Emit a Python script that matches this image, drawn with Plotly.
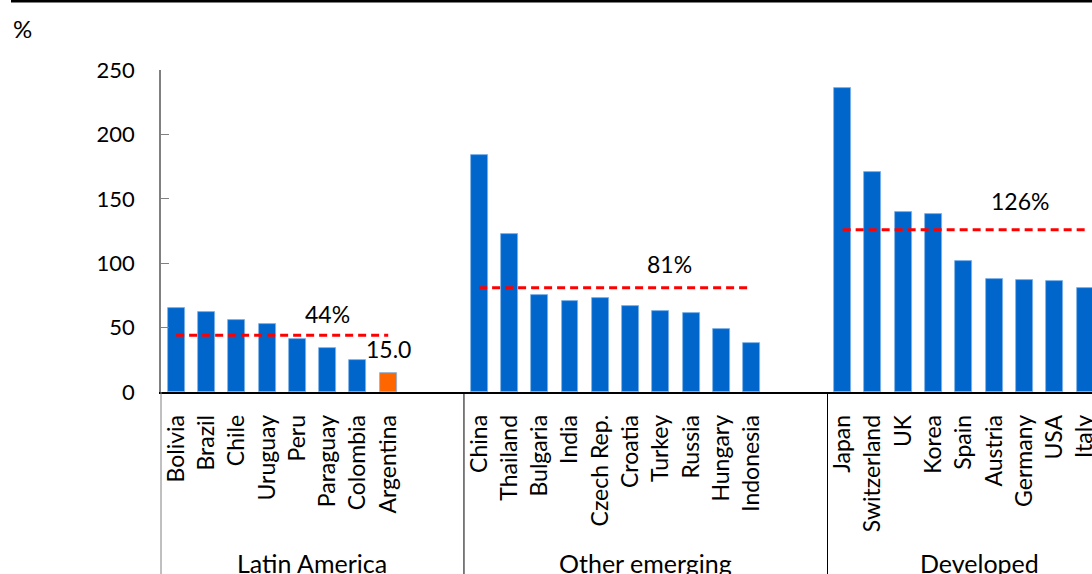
import plotly.graph_objects as go

# ---- data ----
latam = ["Bolivia", "Brazil", "Chile", "Uruguay", "Peru", "Paraguay", "Colombia", "Argentina"]
latam_vals = [65, 62, 56, 53, 41, 34, 25, 15.0]
other = ["China", "Thailand", "Bulgaria", "India", "Czech Rep.", "Croatia", "Turkey", "Russia", "Hungary", "Indonesia"]
other_vals = [184, 123, 75, 71, 73, 67, 63, 61, 49, 38]
devd = ["Japan", "Switzerland", "UK", "Korea", "Spain", "Austria", "Germany", "USA", "Italy"]
devd_vals = [236, 171, 140, 138, 102, 88, 87, 86, 81]
group_names = ["Latin America", "Other emerging", "Developed"]
group_avgs = [44, 81, 126]
avg_labels = ["44%", "81%", "126%"]
highlight = "Argentina"
highlight_label = "15.0"
y_ticks = [0, 50, 100, 150, 200, 250]

groups = [(latam, latam_vals), (other, other_vals), (devd, devd_vals)]
GAP = 2
BLUE = "#0066CC"
ORANGE = "#FF6600"
FONT = "Lato"

xmin, xmax = -0.5, 30.23

fig = go.Figure()
pos = 0
tickvals, ticktext = [], []
group_spans = []
for (names, vals), avg, lab in zip(groups, group_avgs, avg_labels):
    xs = list(range(pos, pos + len(names)))
    colors = [ORANGE if n == highlight else BLUE for n in names]
    fig.add_trace(go.Bar(x=xs, y=vals, width=0.56,
                         marker=dict(color=colors, line=dict(color="#7fb3e6", width=0.8)),
                         showlegend=False))
    fig.add_trace(go.Scatter(x=[xs[0], xs[-1]], y=[avg, avg], mode="lines",
                             line=dict(color="#FF0000", width=3, dash="8px,5px"),
                             showlegend=False))
    tickvals += xs
    ticktext += names
    end = pos + len(names) + GAP - 0.5
    if end > xmax:
        end = pos + len(names) - 0.5 + 1.0
    group_spans.append((pos - 0.5, end))
    pos += len(names) + GAP

W, H = 1092, 574
ml, mr, mt, mb = 161, 0, 70, 182
ph = H - mt - mb
pw = W - ml - mr

def xpaper(v):
    return (v - xmin) / (xmax - xmin)

shapes = []
# group dividers
for i, (a, b) in enumerate(group_spans):
    shapes.append(dict(type="line", xref="paper", yref="paper", x0=xpaper(a), x1=xpaper(a),
                       y0=0, y1=-(H - (mt + ph)) / ph - 0.01,
                       line=dict(color="#808080" if i == 0 else "#000000", width=1)))
# top rule
shapes.append(dict(type="line", xref="paper", yref="paper", x0=(11 - ml) / pw, x1=1.01,
                   y0=(ph + mt - 1) / ph, y1=(ph + mt - 1) / ph,
                   line=dict(color="#000000", width=3)))

annotations = []
# group labels
for (a, b), g in zip(group_spans, group_names):
    annotations.append(dict(x=(a + b) / 2, xref="x", y=-(563 - (mt + ph)) / ph, yref="paper",
                            text=g, showarrow=False, xanchor="center", yanchor="middle",
                            font=dict(size=25, color="#000", family=FONT)))
# average labels (positions)
avg_label_x = [5, 16.3, 27.85]
avg_label_y = [60.5, 99.4, 148]
for x, y, t in zip(avg_label_x, avg_label_y, avg_labels):
    annotations.append(dict(x=x, y=y, xref="x", yref="y", text=t, showarrow=False,
                            font=dict(size=23, color="#000", family=FONT)))
# highlight value label
hx = tickvals[ticktext.index(highlight)]
annotations.append(dict(x=hx, y=latam_vals[latam.index(highlight)], xref="x", yref="y",
                        text=highlight_label, showarrow=False, yanchor="bottom", yshift=8,
                        font=dict(size=23, color="#000", family=FONT)))
# % unit label
annotations.append(dict(x=(11 - ml) / pw, y=(mt + ph - 28) / ph, xref="paper", yref="paper",
                        text="%", showarrow=False, xanchor="left", yanchor="middle",
                        font=dict(size=24, color="#000", family=FONT)))

fig.update_layout(
    width=W, height=H,
    margin=dict(l=ml, r=mr, t=mt, b=mb, autoexpand=False),
    paper_bgcolor="white", plot_bgcolor="white",
    bargap=0, font=dict(family=FONT, color="#000"),
    shapes=shapes, annotations=annotations,
    xaxis=dict(range=[xmin, xmax], tickmode="array", tickvals=tickvals, ticktext=ticktext,
               tickangle=-90, ticks="", showgrid=False, zeroline=False, automargin=False,
               showline=True, linecolor="#000000", linewidth=1.5,
               ticklabeloverflow="allow", ticklabelstandoff=12,
               tickfont=dict(size=23, family=FONT, color="#000")),
    yaxis=dict(range=[0, 250], tickvals=y_ticks, ticks="inside", ticklen=8, automargin=False,
               tickcolor="#808080", showgrid=False, zeroline=False,
               showline=True, linecolor="#808080", linewidth=1.5,
               tickfont=dict(size=22, family=FONT, color="#000"), ticklabelstandoff=20),
)

fig.write_html("out.html")
